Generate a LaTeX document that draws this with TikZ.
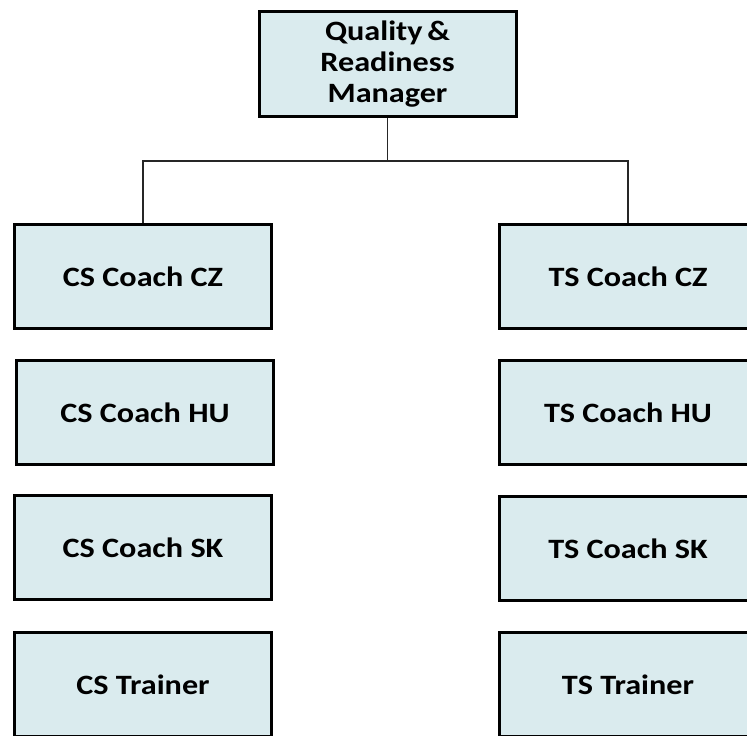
\documentclass[tikz,border=0pt]{standalone}
\usepackage{fontspec}
\newfontfamily\boxfont{Carlito}[FakeStretch=1.15]
\definecolor{boxfill}{RGB}{218,235,238}
\begin{document}
\begin{tikzpicture}[x=1bp,y=-1bp,
  orgbox/.style={draw=black, line width=3bp, fill=boxfill,
    minimum width=257bp, minimum height=104bp, inner sep=0pt,
    align=center, font=\boxfont\bfseries\fontsize{28bp}{31bp}\selectfont},
  link/.style={draw=black!85, line width=1.2bp}]
\useasboundingbox (0,0) rectangle (747,736);
\clip (0,0) rectangle (747,736);

% head of the unit
\node[orgbox] (qrm) at (387.5,64) {Quality\,\&\\Readiness\\Manager};

% CS column
\node[orgbox] (cscz) at (143,276.5) {CS Coach CZ};
\node[orgbox] (cshu) at (145,412.5) {CS Coach HU};
\node[orgbox] (cssk) at (143,547.5) {CS Coach SK};
\node[orgbox] (cstr) at (143,684.5) {CS Trainer};

% TS column
\node[orgbox] (tscz) at (628,276.5) {TS Coach CZ};
\node[orgbox] (tshu) at (628,412.5) {TS Coach HU};
\node[orgbox] (tssk) at (628,548.5) {TS Coach SK};
\node[orgbox] (tstr) at (628,684.5) {TS Trainer};

% reporting lines
\coordinate (bus) at (qrm.south |- 0,161);
\draw[link] (qrm.south) -- (bus);
\draw[link] (cscz.north) |- (bus) -| (tscz.north);
\end{tikzpicture}
\end{document}
